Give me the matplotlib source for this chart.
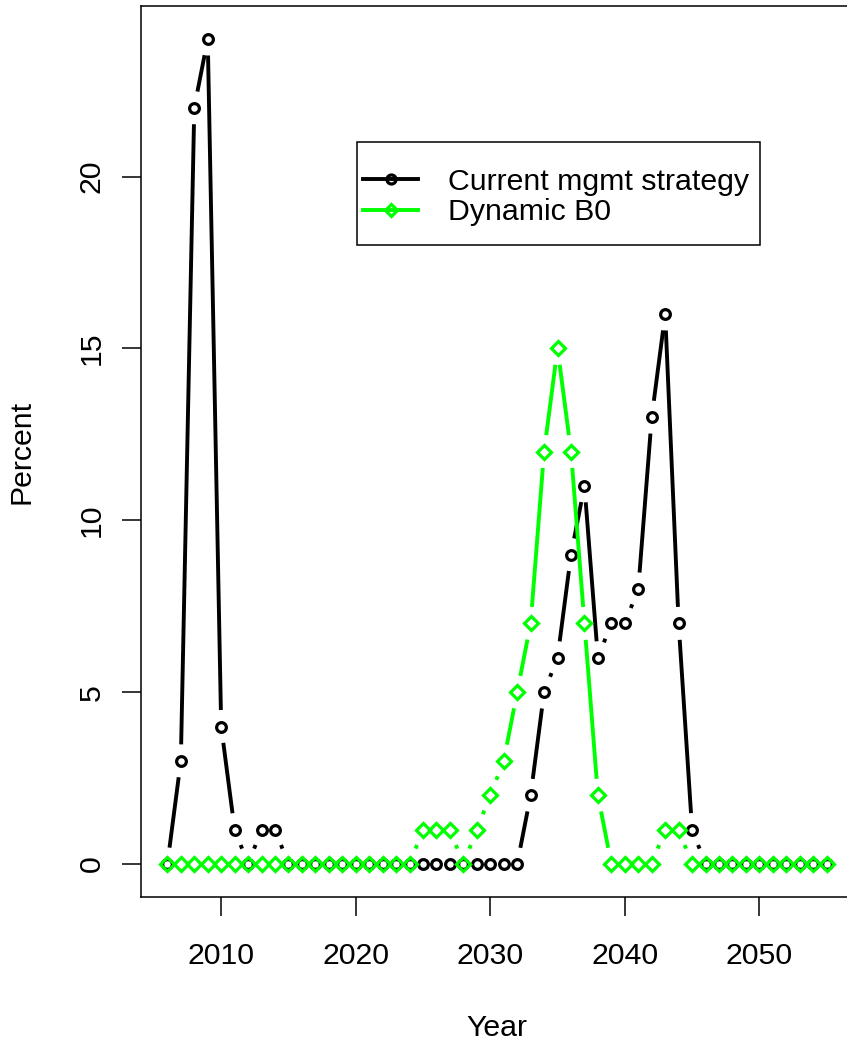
import numpy as np
import matplotlib
matplotlib.use("Agg")
import matplotlib.pyplot as plt
from matplotlib.lines import Line2D
from matplotlib.patches import Rectangle
from matplotlib.collections import LineCollection

# ---- data -------------------------------------------------------------
years = list(range(2006, 2056))

current_mgmt = [0, 3, 22, 24, 4, 1, 0, 1, 1, 0,
                0, 0, 0, 0, 0, 0, 0, 0, 0, 0,
                0, 0, 0, 0, 0, 0, 0, 2, 5, 6,
                9, 11, 6, 7, 7, 8, 13, 16, 7, 1,
                0, 0, 0, 0, 0, 0, 0, 0, 0, 0]

dynamic_b0 = [0, 0, 0, 0, 0, 0, 0, 0, 0, 0,
              0, 0, 0, 0, 0, 0, 0, 0, 0, 1,
              1, 1, 0, 1, 2, 3, 5, 7, 12, 15,
              12, 7, 2, 0, 0, 0, 0, 1, 1, 0,
              0, 0, 0, 0, 0, 0, 0, 0, 0, 0]

series_labels = ["Current mgmt strategy", "Dynamic B0"]
x_ticks = [2010, 2020, 2030, 2040, 2050]
y_ticks = [0, 5, 10, 15, 20]

# ---- style ------------------------------------------------------------
W, H, DPI = 847, 1044, 100
FONT = "Liberation Sans"
FS = 21.8
LW = 2.8          # line width (pt)
MEW = 2.3         # marker edge width (pt)
GAP = 16.5        # px left open around each point (R type="b")
BLACK = "#000000"
GREEN = "#00FF00"

plt.rcParams["font.family"] = [FONT, "DejaVu Sans"]
plt.rcParams["font.size"] = FS

fig = plt.figure(figsize=(W / DPI, H / DPI), dpi=DPI)
fig.patch.set_facecolor("white")

# axes frame in pixels (left, top, right, bottom); right edge runs past the figure
L_px, T_px, R_px, B_px = 141, 6, 853, 897
ax = fig.add_axes([L_px / W, 1 - B_px / H, (R_px - L_px) / W, (B_px - T_px) / H])

xr = max(years) - min(years)
yr = max(max(current_mgmt), max(dynamic_b0))
ax.set_xlim(min(years) - 0.04 * xr, max(years) + 0.04 * xr)
ax.set_ylim(-0.04 * yr, yr * 1.04)

for s in ax.spines.values():
    s.set_linewidth(1.1)
    s.set_color("black")

ax.set_xticks(x_ticks)
ax.set_yticks(y_ticks)
ax.tick_params(axis="both", direction="out", length=13.7, width=1.1,
               labelsize=FS, colors="black")
ax.tick_params(axis="x", pad=19)
for lab in ax.get_yticklabels():
    lab.set_rotation(90)
    lab.set_va("center")
    lab.set_ha("center")
ax.tick_params(axis="y", pad=22)

ax.set_xlabel("Year", fontsize=FS)
ax.set_ylabel("Percent", fontsize=FS)
ax.xaxis.set_label_coords(0.5, -(1028 - B_px) / (B_px - T_px))
ax.xaxis.label.set_va("center")
ax.yaxis.set_label_coords(-(L_px - 22) / (R_px - L_px), 0.5)
ax.yaxis.label.set_va("center")


def draw_b(x, y, color, marker, ms, zorder):
    """Points joined by segments that stop short of each point."""
    pts = ax.transData.transform(np.column_stack([x, y]))
    inv = ax.transData.inverted()
    segs = []
    for p0, p1 in zip(pts[:-1], pts[1:]):
        d = p1 - p0
        length = np.hypot(d[0], d[1])
        if length > 2 * GAP:
            u = d / length
            segs.append(inv.transform(np.array([p0 + u * GAP, p1 - u * GAP])))
    lc = LineCollection(segs, colors=color, linewidths=LW, capstyle="butt",
                        zorder=zorder)
    ax.add_collection(lc)
    ax.plot(x, y, linestyle="none", marker=marker, ms=ms, mfc="none",
            mec=color, mew=MEW, zorder=zorder + 0.1, clip_on=False)


draw_b(years, current_mgmt, BLACK, "o", 7.0, 3)
draw_b(years, dynamic_b0, GREEN, "D", 7.1, 4)

# legend
handles = [
    Line2D([], [], color=BLACK, lw=LW, marker="o", ms=6.5, mfc="none", mew=MEW),
    Line2D([], [], color=GREEN, lw=LW, marker="D", ms=6.5, mfc="none", mew=MEW),
]
leg = fig.legend(handles, series_labels, loc="center left",
                 bbox_to_anchor=(363 / W, 1 - 197 / H),
                 bbox_transform=fig.transFigure, frameon=False,
                 borderpad=0, borderaxespad=0, handlelength=1.83,
                 handletextpad=0.98, labelspacing=0.08, fontsize=FS)
fig.add_artist(Rectangle((357 / W, 1 - 245 / H), (760 - 357) / W, (245 - 142) / H,
                         transform=fig.transFigure, fill=False,
                         edgecolor="black", linewidth=1.1, zorder=5))

fig.savefig("out.png", dpi=DPI, facecolor="white")
